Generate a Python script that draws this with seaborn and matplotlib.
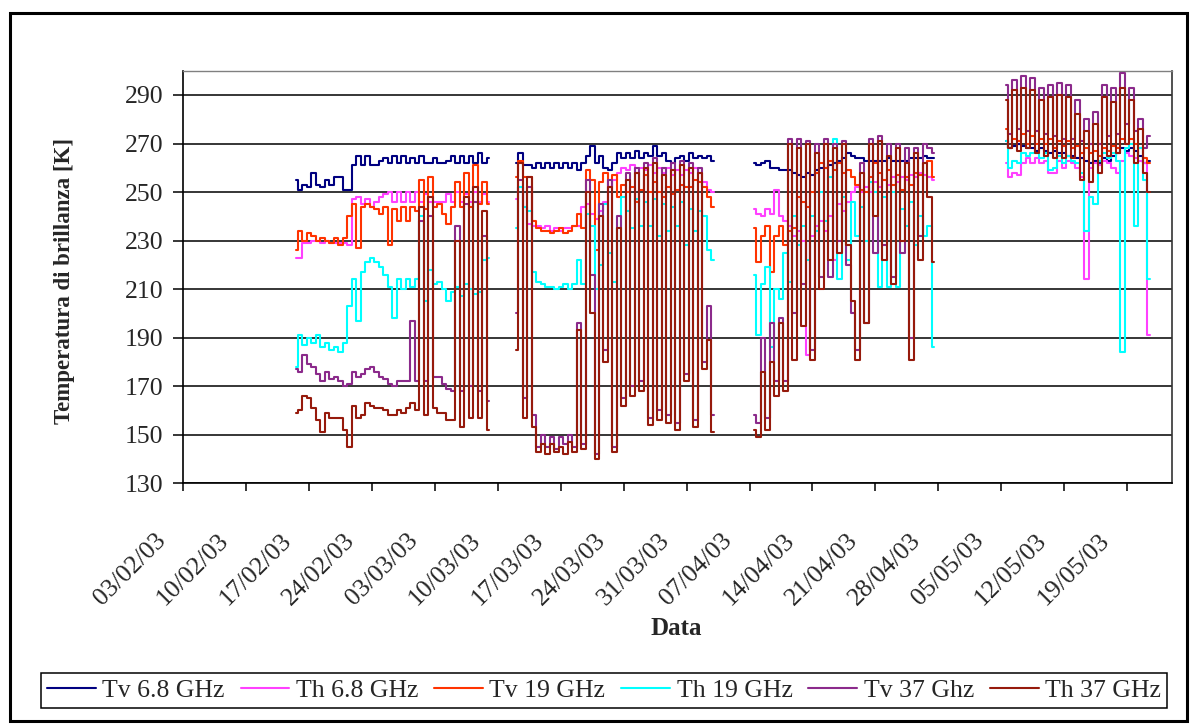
import numpy as np
import pandas as pd
import matplotlib
matplotlib.use("Agg")
import matplotlib.pyplot as plt
import matplotlib.transforms as mtransforms
from matplotlib.lines import Line2D
from matplotlib.patches import Rectangle
import seaborn as sns

# Brightness temperatures, 12-hourly samples, four acquisition periods.
# Time is counted in days from 03/02/03.
seg_start = [12.5, 37.0, 63.5, 91.5]
step = 0.5

series_names = ["Tv 6.8 GHz", "Th 6.8 GHz", "Tv 19 GHz", "Th 19 GHz", "Tv 37 Ghz", "Th 37 GHz"]
series_colors = ["#000080", "#FF40FF", "#FF3300", "#00FFFF", "#8B2A8B", "#961A0C"]

tv68 = [
    [255, 251, 253, 252, 258, 253, 252, 255, 253, 256, 256, 251, 251, 261, 265, 261, 265, 261, 261, 263, 264, 262,
     265, 262, 265, 262, 264, 262, 265, 262, 262, 264, 262, 262, 263, 265, 262, 265, 262, 265, 262, 266, 262, 264],
    [262, 266, 261, 261, 260, 262, 260, 262, 260, 262, 260, 262, 260, 262, 259, 262, 265, 269, 262, 265, 260, 259,
     262, 266, 264, 266, 264, 267, 264, 266, 265, 269, 265, 266, 263, 262, 264, 265, 263, 266, 264, 265, 264, 265, 263],
    [262, 261, 262, 263, 260, 260, 259, 259, 259, 258, 257, 256, 258, 257, 259, 260, 260, 261, 262, 263, 264,
     266, 265, 264, 264, 263, 263, 263, 263, 263, 264, 263, 263, 263, 263, 264, 264, 264, 265, 264, 264],
    [271, 268, 269, 270, 269, 268, 268, 267, 268, 267, 266, 267, 266, 266, 265, 265, 264,
     264, 263, 262, 263, 262, 264, 263, 265, 266, 268, 267, 268, 267, 265, 262, 263],
]
th68 = [
    [223, 223, 229, 229, 230, 230, 229, 230, 229, 229, 229, 229, 228, 247, 248, 245, 247, 244, 246, 248, 249, 250,
     246, 250, 246, 250, 246, 250, 246, 249, 246, 246, 246, 246, 249, 246, 250, 246, 249, 246, 250, 246, 249, 246],
    [247, 252, 244, 237, 236, 236, 235, 236, 234, 235, 234, 235, 235, 236, 236, 244, 245, 241, 239, 242, 246, 252,
     255, 258, 260, 259, 261, 258, 260, 259, 261, 258, 260, 258, 260, 257, 259, 257, 259, 258, 260, 258, 254, 251, 250],
    [243, 241, 240, 243, 241, 251, 240, 238, 236, 232, 234, 230, 183, 232, 236, 238, 234, 240, 222, 245, 242,
     246, 250, 252, 250, 252, 250, 254, 252, 255, 253, 256, 254, 256, 255, 257, 256, 258, 257, 256, 255],
    [262, 256, 258, 257, 262, 264, 262, 264, 262, 263, 258, 258, 263, 260, 263, 262, 260,
     256, 214, 260, 262, 261, 263, 262, 260, 258, 263, 266, 265, 264, 263, 262, 191],
]
tv19 = [
    [226, 234, 230, 233, 232, 230, 231, 230, 229, 231, 228, 231, 240, 245, 227, 244, 245, 244, 243, 241, 244, 228,
     243, 238, 244, 238, 244, 242, 255, 243, 256, 244, 245, 241, 237, 244, 254, 244, 258, 244, 261, 245, 254, 245],
    [256, 263, 256, 256, 238, 235, 234, 234, 233, 234, 235, 233, 234, 236, 241, 235, 259, 255, 226, 254, 258, 252,
     257, 248, 253, 250, 252, 246, 251, 257, 250, 254, 250, 248, 252, 249, 251, 253, 252, 252, 255, 254, 252, 248, 244],
    [235, 221, 232, 236, 217, 232, 236, 228, 234, 235, 248, 246, 244, 250, 258, 262, 260, 263, 259, 262, 258,
     259, 256, 253, 251, 250, 256, 262, 258, 255, 259, 253, 257, 251, 256, 253, 258, 257, 262, 263, 256],
    [276, 268, 272, 271, 274, 270, 273, 270, 272, 270, 272, 268, 271, 269, 271, 268, 269,
     266, 268, 266, 267, 265, 268, 267, 269, 268, 272, 270, 272, 270, 268, 264, 262],
]
th19 = [
    [178, 191, 187, 190, 188, 191, 186, 188, 185, 186, 184, 188, 203, 214, 197, 217, 221, 223, 221, 219, 216, 211,
     198, 214, 210, 214, 211, 214, 240, 205, 218, 212, 213, 210, 205, 209, 211, 207, 212, 210, 208, 209, 222, 223],
    [235, 252, 244, 242, 217, 213, 212, 211, 211, 210, 211, 212, 210, 212, 222, 212, 241, 236, 210, 220, 245, 225,
     213, 235, 248, 242, 235, 247, 236, 246, 236, 247, 232, 245, 234, 244, 236, 246, 228, 243, 234, 242, 240, 226, 222],
    [216, 191, 212, 219, 186, 210, 206, 225, 213, 240, 228, 236, 222, 240, 234, 250, 238, 256, 272, 214, 248,
     222, 246, 232, 244, 230, 254, 250, 211, 248, 211, 250, 211, 243, 236, 246, 228, 240, 232, 236, 186],
    [271, 260, 263, 262, 266, 265, 266, 266, 264, 266, 259, 260, 265, 262, 265, 263, 262,
     258, 234, 248, 245, 263, 266, 264, 266, 263, 184, 268, 270, 236, 268, 255, 214],
]
tv37 = [
    [177, 176, 183, 179, 178, 175, 172, 176, 173, 174, 172, 170, 171, 176, 174, 175, 177, 178, 176, 174, 173, 171,
     170, 172, 172, 172, 197, 172, 238, 172, 240, 174, 174, 171, 169, 168, 236, 168, 245, 170, 246, 168, 232, 164],
    [200, 255, 165, 252, 158, 145, 150, 145, 149, 144, 149, 146, 150, 145, 196, 146, 255, 216, 142, 245, 185, 255,
     145, 240, 165, 258, 170, 260, 172, 262, 157, 264, 160, 260, 158, 262, 155, 263, 175, 262, 156, 260, 180, 203, 158],
    [158, 155, 190, 157, 196, 172, 198, 172, 272, 200, 272, 212, 271, 185, 270, 215, 272, 215, 270, 230, 271,
     220, 200, 185, 262, 196, 272, 225, 273, 228, 270, 215, 270, 225, 268, 190, 268, 232, 270, 268, 266],
    [294, 274, 296, 276, 298, 275, 297, 275, 293, 274, 294, 273, 295, 272, 294, 272, 288,
     271, 280, 270, 283, 270, 294, 273, 293, 274, 299, 278, 293, 275, 280, 268, 273],
]
th37 = [
    [159, 160, 166, 165, 161, 156, 151, 159, 157, 157, 157, 152, 145, 162, 157, 158, 163, 162, 161, 161, 160, 158,
     158, 160, 159, 161, 163, 160, 244, 158, 248, 161, 159, 159, 156, 156, 230, 153, 248, 157, 252, 157, 242, 152],
    [185, 262, 157, 256, 153, 143, 146, 142, 146, 143, 145, 142, 147, 143, 193, 144, 250, 200, 140, 240, 180, 252,
     143, 235, 162, 255, 166, 258, 168, 260, 154, 262, 156, 257, 155, 259, 152, 261, 172, 260, 153, 258, 177, 189, 151],
    [152, 149, 176, 152, 180, 166, 196, 168, 270, 181, 268, 195, 270, 181, 266, 210, 270, 222, 268, 225, 270,
     228, 205, 181, 258, 196, 270, 240, 271, 222, 265, 212, 268, 230, 262, 181, 266, 222, 262, 248, 221],
    [288, 268, 292, 267, 293, 268, 292, 266, 288, 265, 289, 264, 290, 264, 289, 264, 282,
     255, 275, 254, 278, 258, 289, 265, 287, 266, 293, 270, 288, 262, 276, 258, 250],
]

tick_days = [0, 7, 14, 21, 28, 35, 42, 49, 56, 63, 70, 77, 84, 91, 98, 105]
tick_labels = ["03/02/03", "10/02/03", "17/02/03", "24/02/03", "03/03/03", "10/03/03", "17/03/03", "24/03/03",
               "31/03/03", "07/04/03", "14/04/03", "21/04/03", "28/04/03", "05/05/03", "12/05/03", "19/05/03"]
y_ticks = [130, 150, 170, 190, 210, 230, 250, 270, 290]

# long-form table: one row per sample, one unit per acquisition period
rows = []
for name, segments in zip(series_names, [tv68, th68, tv19, th19, tv37, th37]):
    for k, (start, vals) in enumerate(zip(seg_start, segments)):
        days = start + step * np.arange(len(vals))
        for d, v in zip(days, vals):
            rows.append({"day": d, "tb": v, "series": name, "period": k})
df = pd.DataFrame(rows)

sns.set_style("white")
plt.rcParams["font.family"] = ["Liberation Serif", "DejaVu Serif"]

W, H = 1197, 724
fig = plt.figure(figsize=(W / 100, H / 100), dpi=100)
ax = fig.add_axes([183.3 / W, 1 - 483.3 / H, (1172 - 183.3) / W, (483.3 - 70.7) / H])

palette = dict(zip(series_names, series_colors))
sns.lineplot(data=df, x="day", y="tb", hue="series", hue_order=series_names, palette=palette,
             units="period", estimator=None, sort=False, drawstyle="steps-mid",
             linewidth=1.5, legend=False, ax=ax, zorder=3)

ax.set_xlim(0, 110)
ax.set_ylim(130, 300)
ax.set_yticks(y_ticks)
ax.set_yticklabels([str(v) for v in y_ticks])
ax.set_xticks(tick_days)
ax.set_xticklabels(tick_labels)
ax.set_xlabel("")
ax.set_ylabel("")

ax.yaxis.grid(True, color="black", linewidth=1.1)
ax.xaxis.grid(False)
ax.set_axisbelow(True)

for side in ["left", "bottom"]:
    ax.spines[side].set_color("black")
    ax.spines[side].set_linewidth(1.2)
ax.spines["top"].set_color("#808080")
ax.spines["top"].set_linewidth(1.0)
ax.spines["right"].set_color("#333333")
ax.spines["right"].set_linewidth(1.2)

ax.tick_params(axis="y", direction="out", length=7.2, width=1.1, color="black",
               labelsize=18.5, pad=7.2, left=True)
ax.tick_params(axis="x", direction="out", length=5.8, width=1.1, color="black",
               labelsize=18.5, pad=27.1, bottom=True)

shift = mtransforms.ScaledTranslation(-28.7 / 100, 0, fig.dpi_scale_trans)
for lbl in ax.get_xticklabels():
    lbl.set_rotation(45)
    lbl.set_ha("right")
    lbl.set_va("top")
    lbl.set_rotation_mode("anchor")
    lbl.set_transform(lbl.get_transform() + shift)

fig.text(65 / W, 1 - 280.5 / H, "Temperatura di brillanza [K]", rotation=90,
         ha="center", va="center", fontsize=16.5, fontweight="bold")
fig.text(676 / W, 1 - 628.5 / H, "Data", ha="center", va="center",
         fontsize=18, fontweight="bold")

handles = [Line2D([0], [0], color=c, lw=1.5) for c in series_colors]
leg = fig.legend(handles, series_names, loc="center", bbox_to_anchor=(604 / W, 1 - 690.5 / H),
                 ncol=6, frameon=True, fancybox=False, edgecolor="black", framealpha=1,
                 handlelength=1.9, handletextpad=0.25, columnspacing=0.62,
                 borderpad=0.22, borderaxespad=0, fontsize=18.5)
leg.get_frame().set_linewidth(1.1)

fig.add_artist(Rectangle((10 / W, 3 / H), 1177 / W, 708 / H, transform=fig.transFigure,
                         fill=False, edgecolor="black", linewidth=2.2))

fig.savefig("out.png", dpi=100)
